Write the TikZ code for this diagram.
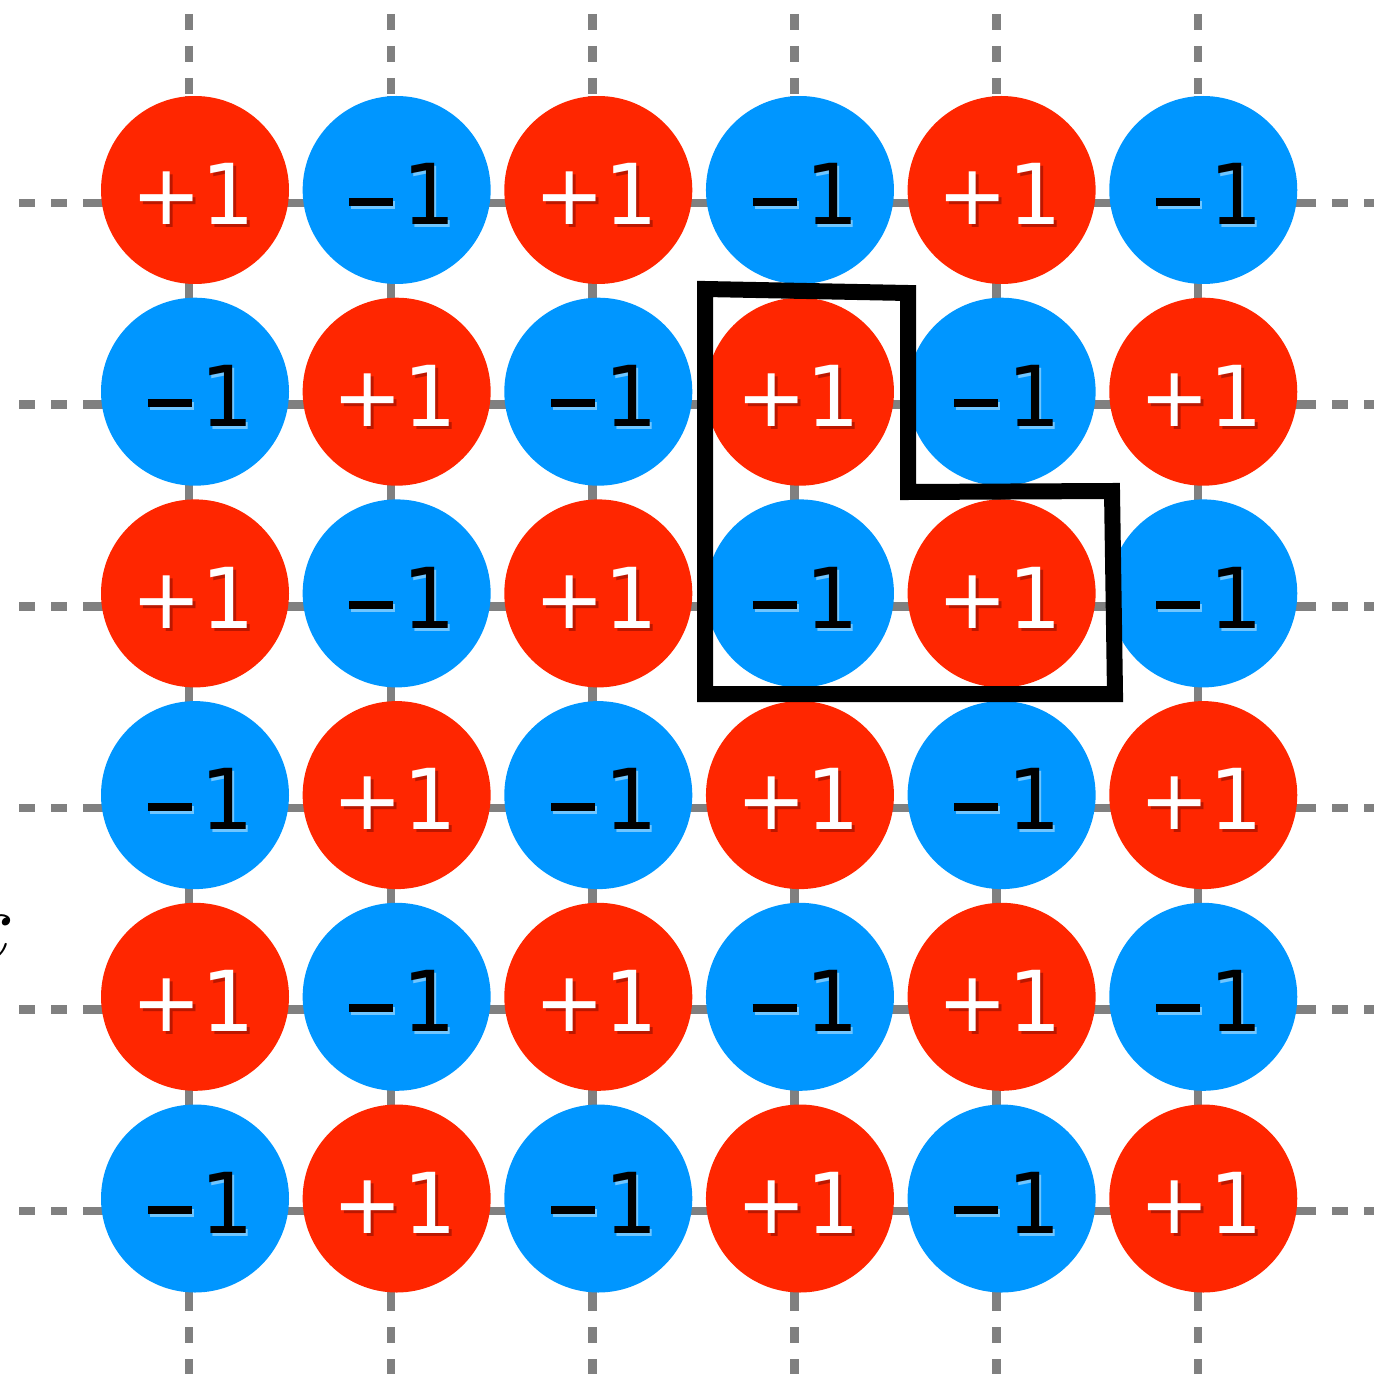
\documentclass[tikz,border=0pt]{standalone}
\usepackage{fontspec}
\newfontfamily\spinfont{DejaVu Sans}
\definecolor{spinred}{RGB}{255,38,0}
\definecolor{spinblue}{RGB}{0,150,255}
\definecolor{gridgray}{RGB}{128,128,128}
\definecolor{shadowred}{RGB}{120,10,0}
\definecolor{haloblue}{RGB}{140,210,255}
\newcommand{\negone}{\raisebox{9.5pt}{\rule{22pt}{4pt}}\hspace{4.5pt}1}
\begin{document}
\begin{tikzpicture}[x={(0.5pt,0)},y={(0,-0.5pt)},
  gridline/.style={draw=gridgray,line width=4.3pt},
  griddash/.style={gridline,dash pattern=on 7.8pt off 8.2pt},
  spin/.style={circle,inner sep=0pt,minimum size=94pt},
  upspin/.style={spin,fill=spinred},
  downspin/.style={spin,fill=spinblue},
  spintext/.style={font=\spinfont\fontsize{42}{50}\selectfont,inner sep=0pt},
  uptext/.style={spintext,text=white},
  uptextshadow/.style={spintext,text=shadowred,opacity=0.5},
  downtext/.style={spintext,text=black},
  downtextshadow/.style={spintext,text=haloblue,opacity=0.8},
  region/.style={draw=black,line width=8pt,line join=miter}]
\useasboundingbox (0,0) rectangle (1373,1374);
% grid lines
\foreach \k in {0,...,5} {
  \pgfmathsetmacro\gx{189+201.8*\k}
  \pgfmathsetmacro\gy{203+201.6*\k}
  \draw[griddash] (\gx,14) -- (\gx,100);
  \draw[gridline] (\gx,96) -- (\gx,1297);
  \draw[griddash] (\gx,1295) -- (\gx,1380);
  \draw[griddash] (19,\gy) -- (102,\gy);
  \draw[gridline] (98,\gy) -- (1302,\gy);
  \draw[griddash] (1300,\gy) -- (1380,\gy);
}
% spins
\foreach \i in {0,...,5} {
  \foreach \j in {0,...,5} {
    \pgfmathsetmacro\cx{195+201.65*\i}
    \pgfmathsetmacro\cy{190+201.7*\j}
    \pgfmathtruncatemacro\parity{mod(\i+\j,2)}
    \ifnum\parity=0
      \node[upspin] (s-\i-\j) at (\cx,\cy) {};
      \node[uptextshadow] (sh-\i-\j) at ([shift={(1,7)}]s-\i-\j.center) {+1};
      \node[uptext] (t-\i-\j) at ([shift={(-2,4)}]s-\i-\j.center) {+1};
    \else
      \node[downspin] (s-\i-\j) at (\cx,\cy) {};
      \node[downtextshadow] (sh-\i-\j) at ([shift={(8,7)}]s-\i-\j.center) {\negone};
      \node[downtext] (t-\i-\j) at ([shift={(6,4)}]s-\i-\j.center) {\negone};
    \fi
  }
}
% outlined region
\draw[region] (705,289) -- (908,293) -- (908,492) -- (1112,491) -- (1115,694) -- (705,694) -- cycle;
% partially visible label
\node[font=\fontsize{25}{30}\selectfont,inner sep=0pt,scale=2] (xlabel) at (-13,937) {$x$};
\end{tikzpicture}
\end{document}
